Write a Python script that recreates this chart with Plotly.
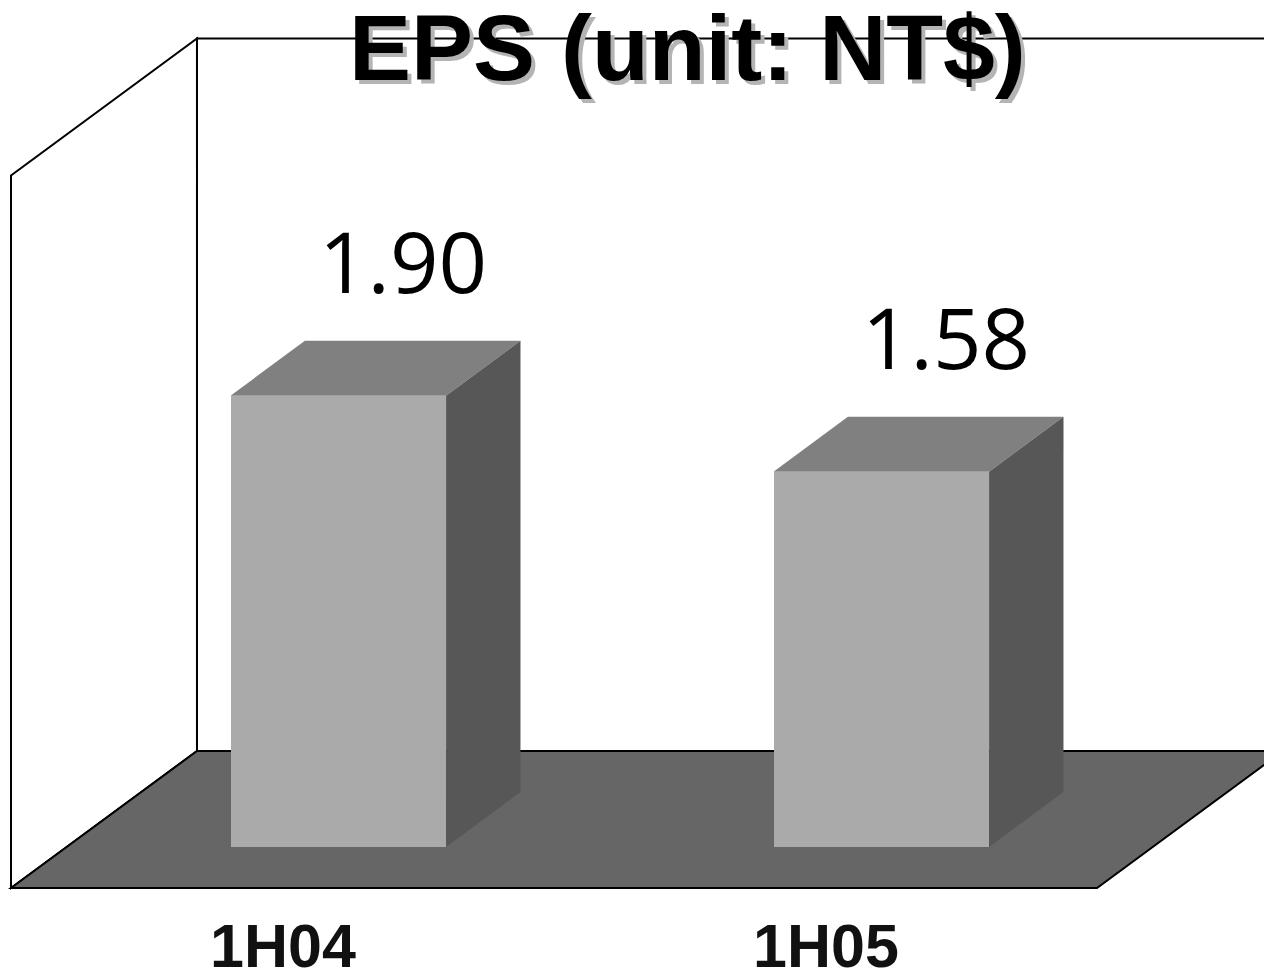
import plotly.graph_objects as go

# ---- data ----
categories = ["1H04", "1H05"]
eps_values = [1.90, 1.58]
value_labels = ["1.90", "1.58"]
title_text = "EPS (unit: NT$)"
axis_max = 3.0

# ---- 3D projection parameters (oblique) ----
DX = 0.3425      # depth offset in category units (full floor depth)
DY = 0.5768      # depth offset in value units (full floor depth)
BAR_W = 0.397    # bar width in category units
D0, D1 = 0.30, 0.70   # bar front / back depth fractions
LABEL_D = 0.65

FRONT = "#AAAAAA"
TOP = "#808080"
SIDE = "#575757"
FLOOR = "#666666"

fig = go.Figure()

n = len(categories)
xl, xr = -0.5, n - 0.5

def path(pts):
    return "M " + " L ".join(f"{x},{y}" for x, y in pts) + " Z"

shapes = [
    # back wall
    dict(type="path", xref="x", yref="y", layer="below",
         path=path([(xl + DX, DY), (xr + DX, DY), (xr + DX, axis_max + DY), (xl + DX, axis_max + DY)]),
         fillcolor="white", line=dict(color="black", width=2)),
    # left wall
    dict(type="path", xref="x", yref="y", layer="below",
         path=path([(xl, 0), (xl + DX, DY), (xl + DX, axis_max + DY), (xl, axis_max)]),
         fillcolor="white", line=dict(color="black", width=2)),
    # floor
    dict(type="path", xref="x", yref="y", layer="below",
         path=path([(xl, 0), (xr, 0), (xr + DX, DY), (xl + DX, DY)]),
         fillcolor=FLOOR, line=dict(color="black", width=2)),
]

xs_front = [i + D0 * DX for i in range(n)]
fig.add_trace(go.Bar(
    x=xs_front, y=eps_values, base=[D0 * DY] * n, width=BAR_W,
    marker=dict(color=FRONT, line=dict(width=0)), hoverinfo="skip"))

for i, v in enumerate(eps_values):
    cx = i + D0 * DX
    x0f, x1f = cx - BAR_W / 2, cx + BAR_W / 2
    y0f, y1f = D0 * DY, D0 * DY + v
    ddx, ddy = (D1 - D0) * DX, (D1 - D0) * DY
    # top face
    fig.add_trace(go.Scatter(
        x=[x0f, x1f, x1f + ddx, x0f + ddx, x0f],
        y=[y1f, y1f, y1f + ddy, y1f + ddy, y1f],
        mode="lines", fill="toself", fillcolor=TOP,
        line=dict(width=0, color=TOP), hoverinfo="skip"))
    # side face
    fig.add_trace(go.Scatter(
        x=[x1f, x1f + ddx, x1f + ddx, x1f, x1f],
        y=[y0f, y0f + ddy, y1f + ddy, y1f, y0f],
        mode="lines", fill="toself", fillcolor=SIDE,
        line=dict(width=0, color=SIDE), hoverinfo="skip"))

annotations = []
for i, (v, lab) in enumerate(zip(eps_values, value_labels)):
    annotations.append(dict(
        x=i + LABEL_D * DX, y=v + LABEL_D * DY, xref="x", yref="y",
        text=lab, showarrow=False, yanchor="middle", xanchor="center", yshift=88,
        font=dict(family="Open Sans", size=85, color="black")))

for i, c in enumerate(categories):
    annotations.append(dict(
        x=i, y=1 - 946 / 972, xref="x", yref="paper", text=f"<b>{c}</b>",
        showarrow=False, yanchor="middle", xanchor="center",
        font=dict(family="Liberation Sans", size=61, color="#111111")))

annotations.append(dict(
    x=687.5 / 1264, y=1 - 48 / 972, xref="paper", yref="paper",
    text=f"<b>{title_text}</b>", showarrow=False, yanchor="middle", xanchor="center",
    font=dict(family="Liberation Sans", size=93, color="black",
              shadow="4px 4px 0px #b4b4b4")))

fig.update_layout(
    width=1264, height=972,
    margin=dict(l=0, r=0, t=0, b=0, autoexpand=False),
    paper_bgcolor="white", plot_bgcolor="white",
    showlegend=False,
    xaxis=dict(range=[-282.5 / 543, (1264 - 282.5) / 543], visible=False, fixedrange=True),
    yaxis=dict(range=[-(972 - 888) / 237.5, 888 / 237.5], visible=False, fixedrange=True),
    shapes=shapes, annotations=annotations, bargap=0,
)

fig.write_html("out.html", config={"displayModeBar": False},
               post_script="document.body.style.margin='0';document.body.style.overflow='hidden';")
